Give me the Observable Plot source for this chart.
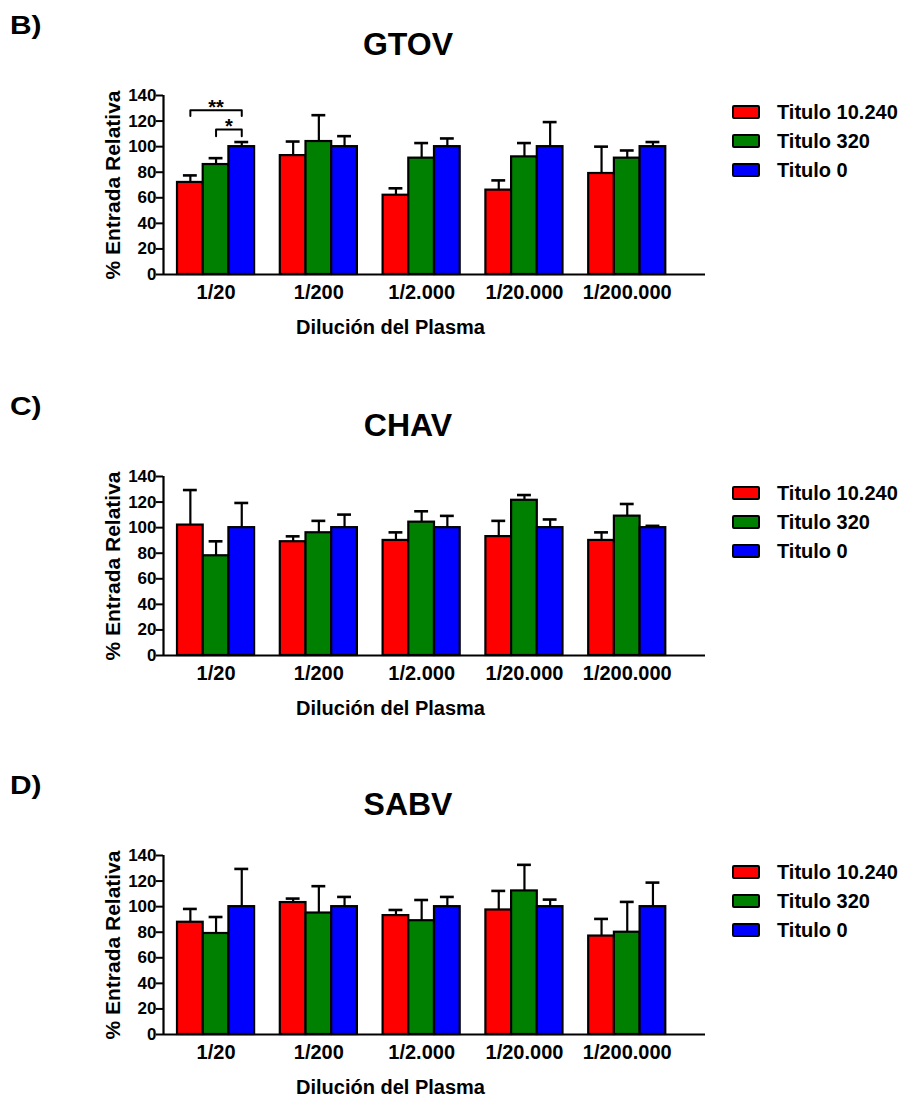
<!DOCTYPE html>
<html>
<head>
<meta charset="utf-8">
<script src="https://cdn.jsdelivr.net/npm/d3@7"></script>
<script src="https://cdn.jsdelivr.net/npm/@observablehq/plot@0.6"></script>
<style>
  body { margin: 0; background: #fff; }
  #page { position: relative; width: 907px; height: 1097px; overflow: hidden; background: #fff;
          font-family: "Liberation Sans", Arial, sans-serif; font-weight: bold; color: #000; }
  .abs { position: absolute; white-space: nowrap; line-height: 1; }
  .letter { font-size: 26px; transform: scaleX(1.15); transform-origin: left top; }
  .title { font-size: 32px; transform: translateX(-50%); }
  .swatch { position: absolute; width: 28px; height: 14px; box-sizing: border-box;
            border: 2px solid #000; border-radius: 2px; }
  .legtext { font-size: 20px; }
  svg { overflow: visible; }
</style>
</head>
<body>
<div id="page"></div>
<script>
// ---------- data ----------
const dilutions = ["1/20", "1/200", "1/2.000", "1/20.000", "1/200.000"];
const series = ["Titulo 10.240", "Titulo 320", "Titulo 0"];
const colors = ["#FF0000", "#008000", "#0000FF"];
const panelLetters = ["B)", "C)", "D)"];
const viruses = ["GTOV", "CHAV", "SABV"];
const xLabel = "Dilución del Plasma";
const yLabel = "% Entrada Relativa";
const yTicks = [0, 20, 40, 60, 80, 100, 120, 140];

// mean values (per dilution) and upper end of the error bar
const gtov10240 = [72, 93, 62, 66, 79];
const gtov10240Top = [77.5, 104, 67.4, 73.6, 100];
const gtov320 = [86, 104, 91, 92, 91];
const gtov320Top = [91, 124.6, 102.8, 102.8, 97];
const gtov0 = [100, 100, 100, 100, 100];
const gtov0Top = [103.6, 108.2, 106.4, 119.2, 103.6];

const chav10240 = [102, 89, 90, 93, 90];
const chav10240Top = [129.4, 93.2, 96.3, 105.3, 96.3];
const chav320 = [78, 96, 104.3, 121.4, 109];
const chav320Top = [89.3, 105.3, 112.8, 125.5, 118.5];
const chav0 = [100, 100, 100, 100, 100];
const chav0Top = [119.3, 110.2, 109.2, 106.4, 101.4];

const sabv10240 = [87.8, 103.2, 93, 97.4, 77];
const sabv10240Top = [98.2, 106.3, 97.4, 112.3, 90.4];
const sabv320 = [79, 95, 89, 112.3, 80];
const sabv320Top = [91.9, 116, 105.2, 132.7, 103.7];
const sabv0 = [100, 100, 100, 100, 100];
const sabv0Top = [129.5, 107.6, 107.6, 105.5, 118.8];

// significance brackets (GTOV, 1/20)
const sigLabels = ["**", "*"];
const sigFrom = [0, 1];      // series index
const sigTo = [2, 2];
const sigY = [128.5, 113.5];
const sigTip = [123.9, 108.2];

// ---------- assemble ----------
const means = [[gtov10240, gtov320, gtov0], [chav10240, chav320, chav0], [sabv10240, sabv320, sabv0]];
const tops = [[gtov10240Top, gtov320Top, gtov0Top], [chav10240Top, chav320Top, chav0Top], [sabv10240Top, sabv320Top, sabv0Top]];

const stride = series.length + 1;        // 3 bars + one bar-wide gap
const xDomain = [-0.545, dilutions.length * stride + 0.545];
const capHalf = 0.27;
const panelTop = [79, 460, 839];

const page = document.getElementById("page");

function addText(cls, txt, left, top) {
  const d = document.createElement("div");
  d.className = "abs " + cls;
  d.textContent = txt;
  d.style.left = left + "px";
  d.style.top = top + "px";
  page.appendChild(d);
  return d;
}

viruses.forEach((virus, vi) => {
  const T = panelTop[vi];
  const rows = [];
  dilutions.forEach((dil, gi) => series.forEach((s, si) => {
    rows.push({dil, serie: s, slot: gi * stride + si, mean: means[vi][si][gi], top: tops[vi][si][gi]});
  }));

  const marks = [
    Plot.rect(rows, {x1: "slot", x2: d => d.slot + 1, y1: 0, y2: "mean", fill: "serie", stroke: "black", strokeWidth: 2.2}),
    Plot.ruleX(rows, {x: d => d.slot + 0.5, y1: "mean", y2: "top", stroke: "black", strokeWidth: 2.2}),
    Plot.ruleY(rows, {y: "top", x1: d => d.slot + 0.5 - capHalf, x2: d => d.slot + 0.5 + capHalf, stroke: "black", strokeWidth: 2.6}),
    Plot.ruleY([0], {stroke: "black", strokeWidth: 2.2}),
    Plot.ruleX([xDomain[0]], {y1: 0, y2: 140, stroke: "black", strokeWidth: 2.2}),
    Plot.axisY({ticks: yTicks, tickSize: 7, tickPadding: 0, fontSize: 17, label: null, stroke: "black", strokeWidth: 2}),
    Plot.axisX({ticks: dilutions.map((d, gi) => gi * stride + series.length / 2),
                tickFormat: v => dilutions[Math.round((v - series.length / 2) / stride)],
                tickSize: 0, tickPadding: 10, fontSize: 20, label: null}),
    Plot.text([xLabel], {text: d => d, frameAnchor: "bottom", textAnchor: "middle", lineAnchor: "middle", dx: -44, dy: 53, fontSize: 20}),
    Plot.text([yLabel], {text: d => d, frameAnchor: "left", textAnchor: "middle", lineAnchor: "middle", rotate: -90, dx: -50, fontSize: 21})
  ];

  if (vi === 0) {
    const gi = dilutions.indexOf("1/20");
    const pts = [];
    const labs = [];
    sigLabels.forEach((lab, k) => {
      const c1 = gi * stride + sigFrom[k] + 0.5, c2 = gi * stride + sigTo[k] + 0.5;
      pts.push({id: k, x: c1, y: sigTip[k]}, {id: k, x: c1, y: sigY[k]}, {id: k, x: c2, y: sigY[k]}, {id: k, x: c2, y: sigTip[k]});
      labs.push({x: (c1 + c2) / 2, y: sigY[k], label: lab});
    });
    marks.push(Plot.line(pts, {x: "x", y: "y", z: "id", stroke: "black", strokeWidth: 2}));
    marks.push(Plot.text(labs, {x: "x", y: "y", text: "label", lineAnchor: "bottom", dy: 4, fontSize: 20}));
  }

  const chart = Plot.plot({
    width: 720, height: 257,
    marginLeft: 163, marginRight: 15, marginTop: 16, marginBottom: 62,
    x: {domain: xDomain},
    y: {domain: [0, 140]},
    color: {domain: series, range: colors},
    style: {fontFamily: '"Liberation Sans", Arial, sans-serif', fontWeight: "bold", color: "black", background: "transparent", overflow: "visible"},
    marks
  });
  const wrap = document.createElement("div");
  wrap.style.position = "absolute";
  wrap.style.left = "0px";
  wrap.style.top = T + "px";
  wrap.appendChild(chart);
  page.appendChild(wrap);

  addText("letter", panelLetters[vi], 10, T - 67);
  addText("title", virus, 408, T - 51);

  const rowOff = [33, 62, 91];
  series.forEach((s, si) => {
    const cy = T + rowOff[si];
    const sw = document.createElement("div");
    sw.className = "swatch";
    sw.style.left = "732px";
    sw.style.top = (cy - 7) + "px";
    sw.style.background = colors[si];
    page.appendChild(sw);
    addText("legtext", s, 777, cy - 9.8);
  });
});
</script>
</body>
</html>
